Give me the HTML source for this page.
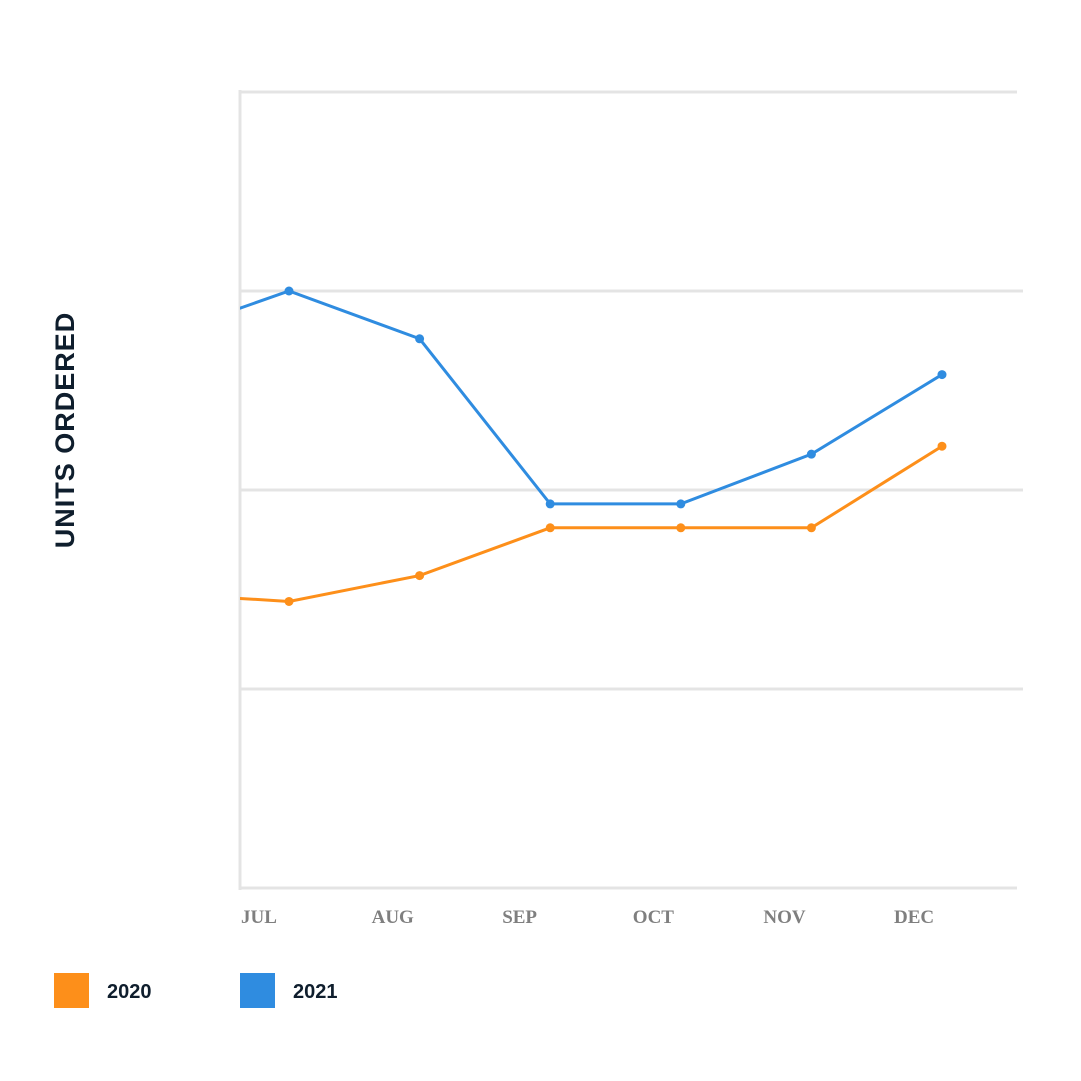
<!DOCTYPE html>
<html><head><meta charset="utf-8"><style>
html,body{margin:0;padding:0;background:#fff;}
svg{display:block}
</style></head><body>
<svg id="chart" width="1081" height="1081" viewBox="0 0 1081 1081" xmlns="http://www.w3.org/2000/svg">
<defs><clipPath id="plotclip"><rect x="240" y="80" width="790" height="820"/></clipPath></defs>
<g id="grid"></g>
<g id="series" clip-path="url(#plotclip)"></g>
<g id="xlabels"></g>
<text x="0" y="0" transform="translate(74,430) rotate(-90)" text-anchor="middle" font-family="Liberation Sans, sans-serif" font-weight="bold" font-size="27" fill="#0f1e2d" letter-spacing="1">UNITS ORDERED</text>
<g>
<rect x="54" y="973" width="35" height="35" fill="#fd8f1a"/>
<text x="107" y="998" font-family="Liberation Sans, sans-serif" font-weight="bold" font-size="20" fill="#0f1e2d">2020</text>
<rect x="240" y="973" width="35" height="35" fill="#2f8ce0"/>
<text x="293" y="998" font-family="Liberation Sans, sans-serif" font-weight="bold" font-size="20" fill="#0f1e2d">2021</text>
</g>
</svg>
<script>
const months = ["JUN","JUL","AUG","SEP","OCT","NOV","DEC"];
const series2020 = [1.48,1.44,1.57,1.81,1.81,1.81,2.22];
const series2021 = [2.77,3.00,2.76,1.93,1.93,2.18,2.58];
const yTicks = [0,1,2,3,4];
const NS="http://www.w3.org/2000/svg";
const xScale = i => 289 + (i-1)*130.6;
const yScale = v => 888 - v*199;
const grid=document.getElementById('grid');
yTicks.forEach(t=>{
  const l=document.createElementNS(NS,'line');
  l.setAttribute('x1',240);l.setAttribute('x2',t===0||t===4?1017:1023);
  l.setAttribute('y1',yScale(t));l.setAttribute('y2',yScale(t));
  l.setAttribute('stroke','#e4e4e4');l.setAttribute('stroke-width',3);
  
  
  grid.appendChild(l);
});
const ax=document.createElementNS(NS,'line');
ax.setAttribute('x1',240);ax.setAttribute('x2',240);ax.setAttribute('y1',90);ax.setAttribute('y2',890);
ax.setAttribute('stroke','#e4e4e4');ax.setAttribute('stroke-width',3);


grid.appendChild(ax);
const sg=document.getElementById('series');
function draw(vals,color,name){
  const p=document.createElementNS(NS,'polyline');
  p.setAttribute('points',vals.map((v,i)=>xScale(i)+','+yScale(v)).join(' '));
  p.setAttribute('fill','none');p.setAttribute('stroke',color);p.setAttribute('stroke-width',3);
  
  
  sg.appendChild(p);
  vals.forEach((v,i)=>{
    if(i===0)return;
    const c=document.createElementNS(NS,'circle');
    c.setAttribute('cx',xScale(i));c.setAttribute('cy',yScale(v));c.setAttribute('r',4.5);c.setAttribute('fill',color);
    
    
    sg.appendChild(c);
  });
}
draw(series2020,'#fd8f1a','series-2020');
draw(series2021,'#2f8ce0','series-2021');
const xl=document.getElementById('xlabels');
months.forEach((m,i)=>{
  if(i===0)return;
  const t=document.createElementNS(NS,'text');
  t.setAttribute('x',xScale(i)-48);t.setAttribute('y',923);
  t.setAttribute('font-family','Liberation Serif, serif');t.setAttribute('font-weight','bold');
  t.setAttribute('font-size','19');t.setAttribute('fill','#7f7f7f');
  t.textContent=m;
  
  
  xl.appendChild(t);
});
</script>
</body></html>
